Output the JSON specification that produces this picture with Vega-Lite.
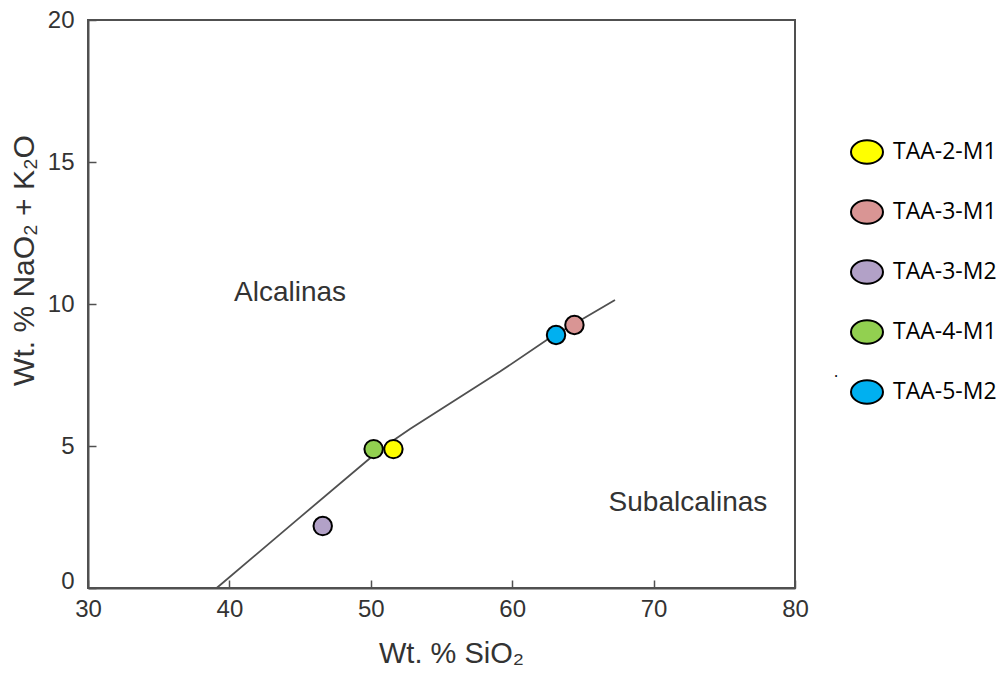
{
  "$schema": "https://vega.github.io/schema/vega-lite/v6.json",
  "width": 707,
  "height": 568,
  "autosize": {"type": "none"},
  "padding": {"left": 88, "top": 20, "right": 212, "bottom": 85},
  "background": "white",
  "config": {
    "view": {"stroke": "#505050", "strokeWidth": 2},
    "font": "Liberation Sans"
  },
  "datasets": {
    "boundary": [
      {"x": 39.1, "y": 0},
      {"x": 44.76, "y": 2.39},
      {"x": 49.94, "y": 4.57},
      {"x": 51.3, "y": 5.1},
      {"x": 52.77, "y": 5.6},
      {"x": 59.14, "y": 7.62},
      {"x": 62.44, "y": 8.73},
      {"x": 67.27, "y": 10.14}
    ],
    "samples": [
      {"sample": "TAA-2-M1", "sio2": 51.6, "alk": 4.89},
      {"sample": "TAA-3-M1", "sio2": 64.4, "alk": 9.26},
      {"sample": "TAA-3-M2", "sio2": 46.6, "alk": 2.18},
      {"sample": "TAA-4-M1", "sio2": 50.2, "alk": 4.89},
      {"sample": "TAA-5-M2", "sio2": 63.1, "alk": 8.91}
    ],
    "labels": [
      {"x": 44.29, "y": 10.39, "t": "Alcalinas"},
      {"x": 72.43, "y": 2.99, "t": "Subalcalinas"}
    ],
    "dot": [
      {"x": 82.9, "y": 7.6, "t": "."}
    ]
  },
  "layer": [
    {
      "data": {"name": "boundary"},
      "mark": {"type": "line", "color": "#505050", "strokeWidth": 1.8},
      "encoding": {
        "x": {
          "field": "x", "type": "quantitative",
          "scale": {"domain": [30, 80], "nice": false, "zero": false},
          "axis": {
            "title": "Wt. % SiO₂",
            "values": [30, 40, 50, 60, 70, 80],
            "grid": false,
            "domainColor": "#505050", "domainWidth": 2,
            "tickColor": "#505050", "tickWidth": 1.5, "tickSize": -8,
            "labelPadding": 17,
            "labelFont": "Liberation Sans", "labelFontSize": 24, "labelColor": "#333333",
            "labelFlush": false,
            "titleFont": "Liberation Sans", "titleFontSize": 29, "titleFontWeight": "normal", "titleColor": "#333333",
            "titleX": 363, "titleY": 65, "titleBaseline": "middle", "titleAlign": "center"
          }
        },
        "y": {
          "field": "y", "type": "quantitative",
          "scale": {"domain": [0, 20], "nice": false},
          "axis": {
            "title": "Wt. % NaO₂ + K₂O",
            "values": [0, 5, 10, 15, 20],
            "grid": false,
            "domainColor": "#505050", "domainWidth": 2,
            "tickColor": "#505050", "tickWidth": 1.5, "tickSize": -8,
            "labelPadding": 22,
            "labelFont": "Liberation Sans", "labelFontSize": 24, "labelColor": "#333333",
            "labelFlush": false,
            "labelBaseline": {"condition": {"test": "datum.value == 0", "value": "alphabetic"}, "value": "middle"},
            "titleFont": "Liberation Sans", "titleFontSize": 30, "titleFontWeight": "normal", "titleColor": "#333333",
            "titleX": -64, "titleY": 240, "titleBaseline": "middle", "titleAlign": "center", "titleAngle": 270
          }
        }
      }
    },
    {
      "data": {"name": "labels"},
      "mark": {"type": "text", "font": "Liberation Sans", "fontSize": 28, "color": "#333333", "baseline": "middle"},
      "encoding": {
        "x": {"field": "x", "type": "quantitative"},
        "y": {"field": "y", "type": "quantitative"},
        "text": {"field": "t"}
      }
    },
    {
      "data": {"name": "dot"},
      "mark": {"type": "text", "font": "Open Sans", "fontSize": 16, "color": "black", "baseline": "middle", "clip": false},
      "encoding": {
        "x": {"field": "x", "type": "quantitative"},
        "y": {"field": "y", "type": "quantitative"},
        "text": {"field": "t"}
      }
    },
    {
      "data": {"name": "samples"},
      "mark": {"type": "point", "filled": true, "size": 340, "stroke": "black", "strokeWidth": 2, "opacity": 1},
      "encoding": {
        "x": {"field": "sio2", "type": "quantitative"},
        "y": {"field": "alk", "type": "quantitative"},
        "fill": {
          "field": "sample", "type": "nominal",
          "scale": {
            "domain": ["TAA-2-M1", "TAA-3-M1", "TAA-3-M2", "TAA-4-M1", "TAA-5-M2"],
            "range": ["#FFFF00", "#D99594", "#B2A1C7", "#92D050", "#00B0F0"]
          },
          "legend": {
            "title": null,
            "orient": "none",
            "legendX": 762,
            "legendY": 115,
            "symbolType": "M-1,0A1,0.73,0,1,0,1,0A1,0.73,0,1,0,-1,0Z",
            "symbolSize": 1024,
            "symbolStrokeColor": "black",
            "symbolStrokeWidth": 2,
            "symbolOpacity": 1,
            "labelFont": "Open Sans",
            "labelFontSize": 23,
            "labelColor": "black",
            "labelOffset": 9,
            "rowPadding": 27,
            "padding": 0
          }
        }
      }
    }
  ]
}
